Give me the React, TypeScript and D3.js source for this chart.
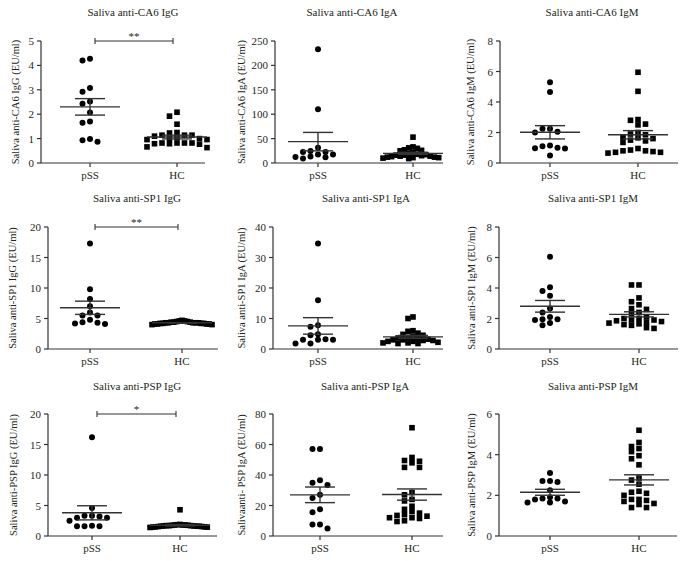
import React from "react";
import * as d3 from "d3";

// categories on every x axis
const groups = ["pSS", "HC"];

// panel texts
const titles = [
  "Saliva anti-CA6 IgG", "Saliva anti-CA6 IgA", "Saliva anti-CA6 IgM",
  "Saliva anti-SP1 IgG", "Saliva anti-SP1 IgA", "Saliva anti-SP1 IgM",
  "Saliva anti-PSP IgG", "Saliva anti-PSP IgA", "Saliva anti-PSP IgM",
];
const yLabels = [
  "Saliva anti-CA6 IgG (EU/ml)", "Saliva anti-CA6 IgA (EU/ml)", "Saliva anti-CA6 IgM (EU/ml)",
  "Saliva anti-SP1 IgG (EU/ml)", "Saliva anti-SP1 IgA (EU/ml)", "Saliva anti-SP1 IgM (EU/ml)",
  "Saliva anti-PSP IgG (EU/ml)", "Salivaanti- PSP IgA (EU/ml)", "Saliva anti-PSP IgM (EU/ml)",
];
const yMax = [5, 250, 8, 20, 40, 8, 20, 80, 6];
const yTickStep = [1, 50, 2, 5, 10, 2, 5, 20, 2];
const significance = ["**", "", "", "**", "", "", "*", "", ""];

// values (EU/ml)
const ca6IgGpSS = [4.27, 4.2, 3.07, 2.92, 2.52, 2.43, 2.07, 1.7, 1.65, 0.98, 0.87, 0.93];
const ca6IgGHC = [2.08, 1.92, 1.59, 1.25, 1.23, 1.14, 1.14, 1.14, 1.1, 1.04, 1.0, 1.0, 0.96, 0.96, 0.82, 0.82, 0.82, 0.82, 0.79, 0.79, 0.77, 0.66, 0.63];
const ca6IgApSS = [233, 110, 31, 24.5, 22.5, 22.5, 17.5, 17.5, 13.5, 12.5, 12, 9];
const ca6IgAHC = [53, 33, 31, 30, 27, 26, 25, 22, 20, 18, 17, 16, 16, 15, 14, 14, 13, 12, 12, 11, 11, 10, 9];
const ca6IgMpSS = [5.3, 4.65, 2.25, 2.25, 2.05, 2.0, 1.15, 1.1, 1.0, 0.97, 0.95, 0.5];
const ca6IgMHC = [5.95, 4.7, 2.85, 2.8, 2.55, 2.5, 2.0, 1.9, 1.85, 1.7, 1.65, 1.6, 1.5, 1.45, 1.35, 0.95, 0.85, 0.8, 0.8, 0.75, 0.7, 0.7, 0.65];
const sp1IgGpSS = [17.3, 9.8, 8.2, 7.0, 6.0, 5.5, 5.5, 4.8, 4.4, 4.3, 4.2, 4.1];
const sp1IgGHC = [4.7, 4.6, 4.6, 4.5, 4.5, 4.4, 4.4, 4.4, 4.3, 4.3, 4.3, 4.3, 4.2, 4.2, 4.2, 4.2, 4.1, 4.1, 4.1, 4.1, 4.0, 4.0, 4.3];
const sp1IgApSS = [34.6, 16, 7.8, 7.3, 4.8, 4.5, 3.2, 3.0, 3.0, 3.0, 1.8, 1.8];
const sp1IgAHC = [10.5, 10.0, 6.0, 5.8, 5.2, 4.8, 4.5, 4.2, 3.8, 3.6, 3.5, 3.2, 3.0, 3.0, 2.8, 2.8, 2.5, 2.5, 2.2, 2.0, 2.0, 1.8, 1.8];
const sp1IgMpSS = [6.05, 4.05, 3.8, 3.5, 2.65, 2.4, 2.1, 1.95, 1.95, 1.9, 1.7, 1.55];
const sp1IgMHC = [4.2, 4.2, 3.35, 3.1, 2.9, 2.65, 2.6, 2.4, 2.3, 2.1, 2.0, 2.0, 1.9, 1.9, 1.85, 1.8, 1.75, 1.7, 1.65, 1.6, 1.55, 1.4, 1.35];
const pspIgGpSS = [16.2, 4.6, 3.3, 3.3, 3.2, 3.0, 3.0, 2.5, 1.7, 1.6, 1.6, 1.6];
const pspIgGHC = [4.3, 1.9, 1.85, 1.8, 1.8, 1.8, 1.75, 1.75, 1.7, 1.7, 1.7, 1.65, 1.65, 1.6, 1.6, 1.6, 1.55, 1.55, 1.5, 1.5, 1.45, 1.45, 1.4];
const pspIgApSS = [57, 57, 36.5, 35, 33.5, 27, 25, 17.5, 15.5, 7.5, 7.5, 5];
const pspIgAHC = [71, 51.5, 49.5, 49, 48, 45, 45, 28.5, 27, 24, 23, 19.5, 17.5, 16, 15, 14, 13.5, 13, 12, 12, 11.5, 10, 9.5];
const pspIgMpSS = [3.1, 2.7, 2.7, 2.65, 2.25, 1.9, 1.85, 1.85, 1.8, 1.7, 1.65, 1.65];
const pspIgMHC = [5.2, 4.6, 4.4, 4.3, 4.15, 3.95, 3.8, 3.5, 2.85, 2.75, 2.55, 2.2, 2.15, 2.1, 2.0, 1.8, 1.8, 1.75, 1.7, 1.6, 1.55, 1.4, 1.4];

const pssSeries = [ca6IgGpSS, ca6IgApSS, ca6IgMpSS, sp1IgGpSS, sp1IgApSS, sp1IgMpSS, pspIgGpSS, pspIgApSS, pspIgMpSS];
const hcSeries = [ca6IgGHC, ca6IgAHC, ca6IgMHC, sp1IgGHC, sp1IgAHC, sp1IgMHC, pspIgGHC, pspIgAHC, pspIgMHC];

// layout (pixels)
const rowTop = [41, 227, 414];
const rowBottom = [163, 349, 536];
const titleY = [16, 202, 390];
const axisLeft = [41, 275, 500, 48, 273, 499, 48, 273, 499];
const axisRight = [205, 443, 678, 218, 443, 678, 217, 443, 677];
const catRange = [[90, 177], [318, 413], [550, 638], [90, 182], [318, 413], [550, 639], [92, 180], [320, 412], [550, 639]];
const titleX = [133, 352, 592, 137, 366, 593, 137, 365, 593];
const yLabelX = [17, 243, 472, 14, 243, 473, 15, 243, 473];

const FONT = "'Liberation Serif', 'Times New Roman', serif";
const INK = "#231f20";
const LINE = "#333";

// GraphPad-like scatter: points stacked sideways when they collide
function swarm(values: number[], y: (v: number) => number, spacing: number, maxHalf: number) {
  const order = values.map((_, i) => i).sort((a, b) => values[b] - values[a]);
  const placed: { slot: number; py: number }[] = [];
  const slots: number[] = new Array(values.length).fill(0);
  for (const i of order) {
    const py = y(values[i]);
    for (let k = 0; ; k++) {
      const slot = k === 0 ? 0 : k % 2 ? -Math.ceil(k / 2) : k / 2;
      if (!placed.some(p => p.slot === slot && Math.abs(p.py - py) < 5)) {
        placed.push({ slot, py });
        slots[i] = slot;
        break;
      }
    }
  }
  const maxSlot = d3.max(slots, s => Math.abs(s)) || 0;
  const step = maxSlot * spacing > maxHalf ? maxHalf / maxSlot : spacing;
  return slots.map(s => s * step);
}

function Panel({ i }: { i: number }) {
  const row = Math.floor(i / 3);
  const top = rowTop[row];
  const bottom = rowBottom[row];
  const left = axisLeft[i];
  const y = d3.scaleLinear().domain([0, yMax[i]]).range([bottom, top]);
  const x = d3.scalePoint<string>().domain(groups).range(catRange[i] as [number, number]);
  const ticks = d3.range(0, yMax[i] + yTickStep[i] / 2, yTickStep[i]);
  const series = [pssSeries[i], hcSeries[i]];

  return (
    <g>
      <text x={titleX[i]} y={titleY[row]} textAnchor="middle" fontSize={11} fill={INK}>{titles[i]}</text>
      <text
        transform={`translate(${yLabelX[i]},${(top + bottom) / 2}) rotate(-90)`}
        textAnchor="middle" dominantBaseline="middle" fontSize={10.5} fill={INK}
      >{yLabels[i]}</text>

      {/* y axis */}
      <line x1={left} x2={left} y1={top} y2={bottom} stroke={LINE} strokeWidth={1.2} />
      {ticks.map(t => (
        <g key={t}>
          <line x1={left - 4} x2={left} y1={y(t)} y2={y(t)} stroke={LINE} strokeWidth={1.2} />
          <text x={left - 7} y={y(t)} textAnchor="end" dominantBaseline="central" fontSize={11} fill={INK}>{t}</text>
        </g>
      ))}

      {/* x axis */}
      <line x1={left} x2={axisRight[i]} y1={bottom} y2={bottom} stroke={LINE} strokeWidth={1.2} />
      {groups.map(g => (
        <g key={g}>
          <line x1={x(g)} x2={x(g)} y1={bottom} y2={bottom + 4} stroke={LINE} strokeWidth={1.2} />
          <text x={x(g)} y={bottom + 16} textAnchor="middle" fontSize={11} fill={INK}>{g}</text>
        </g>
      ))}

      {/* points and mean ± SEM */}
      {groups.map((g, gi) => {
        const vals = series[gi];
        const cx = x(g) as number;
        const offs = swarm(vals, y, 7.5, 30);
        const mean = d3.mean(vals) as number;
        const sem = (d3.deviation(vals) as number) / Math.sqrt(vals.length);
        return (
          <g key={g}>
            {vals.map((v, k) =>
              gi === 0 ? (
                <circle key={k} cx={cx + offs[k]} cy={y(v)} r={3} fill="#000" />
              ) : (
                <rect key={k} x={cx + offs[k] - 2.8} y={y(v) - 2.8} width={5.6} height={5.6} fill="#000" />
              )
            )}
            <line x1={cx - 30} x2={cx + 30} y1={y(mean)} y2={y(mean)} stroke={LINE} strokeWidth={1.4} />
            <line x1={cx - 15} x2={cx + 15} y1={y(mean + sem)} y2={y(mean + sem)} stroke={LINE} strokeWidth={1.4} />
            <line x1={cx - 15} x2={cx + 15} y1={y(mean - sem)} y2={y(mean - sem)} stroke={LINE} strokeWidth={1.4} />
            <line x1={cx} x2={cx} y1={y(mean + sem)} y2={y(mean - sem)} stroke={LINE} strokeWidth={1.4} />
          </g>
        );
      })}

      {/* significance bracket */}
      {significance[i] && (() => {
        const x1 = (x("pSS") as number) + 5;
        const x2 = (x("HC") as number) - 4;
        const by = y(yMax[i]);
        return (
          <g>
            <line x1={x1} x2={x2} y1={by} y2={by} stroke={LINE} strokeWidth={1.1} />
            <line x1={x1} x2={x1} y1={by - 3} y2={by + 3} stroke={LINE} strokeWidth={1.1} />
            <line x1={x2} x2={x2} y1={by - 3} y2={by + 3} stroke={LINE} strokeWidth={1.1} />
            <text x={(x1 + x2) / 2} y={by - 1} textAnchor="middle" fontSize={11} fill={INK}>{significance[i]}</text>
          </g>
        );
      })()}
    </g>
  );
}

export default function App() {
  return (
    <svg
      width={690}
      height={561}
      style={{ position: "absolute", left: 0, top: 0, background: "#fff", fontFamily: FONT }}
    >
      {titles.map((_, i) => <Panel key={i} i={i} />)}
    </svg>
  );
}
